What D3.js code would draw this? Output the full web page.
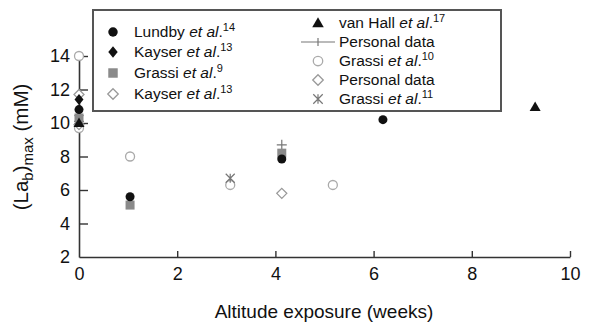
<!DOCTYPE html>
<html><head><meta charset="utf-8">
<script src="https://cdn.jsdelivr.net/npm/d3@7"></script>
<style>body{margin:0;background:#fff}svg{display:block;font-family:"Liberation Sans",Arial,sans-serif}</style>
</head><body><svg id="c" width="599" height="327"></svg>
<script>
const xTicks = [0, 2, 4, 6, 8, 10];
const yTicks = [2, 4, 6, 8, 10, 12, 14];
const lundbyX = [0, 1.04, 4.13, 6.19];
const lundbyY = [10.8, 5.6, 7.85, 10.2];
const kayserFX = [0];
const kayserFY = [11.4];
const grassi9X = [0, 1.04, 4.13];
const grassi9Y = [10.3, 5.1, 8.2];
const kayserOX = [0];
const kayserOY = [11.7];
const vanHallX = [0, 9.29];
const vanHallY = [10.0, 10.95];
const personalPX = [0, 4.13];
const personalPY = [10.1, 8.7];
const grassi10X = [0, 0, 1.04, 3.08, 5.17];
const grassi10Y = [14.0, 9.7, 8.0, 6.3, 6.3];
const personalDX = [0, 4.13];
const personalDY = [9.9, 5.8];
const grassi11X = [0, 3.08];
const grassi11Y = [10.2, 6.7];

const svg = d3.select("#c");
const x = d3.scaleLinear().domain([0, 10]).range([79, 570]);
const y = d3.scaleLinear().domain([2, 14]).range([257, 56]);
const axisCol = "#333";

const gx = svg.append("g").attr("transform", `translate(0,${y(2)})`)
  .call(d3.axisBottom(x).tickValues(xTicks).tickSizeInner(-6).tickSizeOuter(0).tickPadding(10));
const gy = svg.append("g").attr("transform", `translate(${x(0)},0)`)
  .call(d3.axisLeft(y).tickValues(yTicks).tickSizeInner(-9).tickSizeOuter(0).tickPadding(9));
[gx, gy].forEach(g => {
  g.select(".domain").attr("stroke", axisCol).attr("stroke-width", 1.6);
  g.selectAll(".tick line").attr("stroke", axisCol).attr("stroke-width", 1.4);
  g.selectAll(".tick text").attr("fill", "#111").style("font-size", "18px").style("font-family", "'Liberation Sans',Arial,sans-serif");
});
gy.selectAll(".tick").filter(d => d === 2).select("line").remove();
gx.selectAll(".tick").filter(d => d === 0).select("line").remove();

// axis titles
svg.append("text").attr("x", 324).attr("y", 318).attr("text-anchor", "middle")
  .style("font-size", "19px").attr("fill", "#111").text("Altitude exposure (weeks)");
const yt = svg.append("text").attr("transform", "translate(28,147) rotate(-90)")
  .attr("text-anchor", "middle").style("font-size", "20.5px").attr("fill", "#111");
yt.append("tspan").text("(La");
yt.append("tspan").attr("dy", 5).style("font-size", "15px").text("b");
yt.append("tspan").attr("dy", -5).text(")");
yt.append("tspan").attr("dy", 5).style("font-size", "15px").text("max");
yt.append("tspan").attr("dy", -5).text(" (mM)");

// symbol drawers
function drawSym(g, type, cx, cy, s) {
  s = s || 1;
  if (type === "circle") g.append("circle").attr("cx", cx).attr("cy", cy).attr("r", 4.5 * s).attr("fill", "#111");
  else if (type === "diamond") g.append("path").attr("d", `M${cx},${cy - 5.5 * s}L${cx + 4.5 * s},${cy}L${cx},${cy + 5.5 * s}L${cx - 4.5 * s},${cy}Z`).attr("fill", "#111");
  else if (type === "square") g.append("rect").attr("x", cx - 4.5 * s).attr("y", cy - 4.5 * s).attr("width", 9 * s).attr("height", 9 * s).attr("fill", "#8a8a8a");
  else if (type === "odiamond") g.append("path").attr("d", `M${cx},${cy - 5 * s}L${cx + 5 * s},${cy}L${cx},${cy + 5 * s}L${cx - 5 * s},${cy}Z`).attr("fill", "#fff").attr("stroke", "#999").attr("stroke-width", 1.3);
  else if (type === "triangle") g.append("path").attr("d", `M${cx},${cy - 5.5 * s}L${cx + 5.5 * s},${cy + 4 * s}L${cx - 5.5 * s},${cy + 4 * s}Z`).attr("fill", "#111");
  else if (type === "plus") g.append("path").attr("d", `M${cx - 5 * s},${cy}H${cx + 5 * s}M${cx},${cy - 5 * s}V${cy + 5 * s}`).attr("stroke", "#777").attr("stroke-width", 1.2).attr("fill", "none");
  else if (type === "ocircle") g.append("circle").attr("cx", cx).attr("cy", cy).attr("r", 4.5 * s).attr("fill", "#fff").attr("stroke", "#aaa").attr("stroke-width", 1.3);
  else if (type === "asterisk") {
    const r = 4.5 * s;
    g.append("path").attr("d", `M${cx - r},${cy - r}L${cx + r},${cy + r}M${cx - r},${cy + r}L${cx + r},${cy - r}M${cx},${cy - r}V${cy + r}`)
      .attr("stroke", "#777").attr("stroke-width", 1.2).attr("fill", "none");
  }
}

// points (draw order: open/gray behind, dark on top)
const series = [
  { name: "Grassi", sup: "10", type: "ocircle", xs: grassi10X, ys: grassi10Y },
  { name: "Personal data", type: "odiamond", xs: personalDX, ys: personalDY },
  { name: "Kayser", sup: "13", type: "odiamond", xs: kayserOX, ys: kayserOY },
  { name: "Grassi", sup: "11", type: "asterisk", xs: grassi11X, ys: grassi11Y },
  { name: "Personal data", type: "plus", xs: personalPX, ys: personalPY },
  { name: "Grassi", sup: "9", type: "square", xs: grassi9X, ys: grassi9Y },
  { name: "van Hall", sup: "17", type: "triangle", xs: vanHallX, ys: vanHallY },
  { name: "Lundby", sup: "14", type: "circle", xs: lundbyX, ys: lundbyY },
  { name: "Kayser", sup: "13", type: "diamond", xs: kayserFX, ys: kayserFY }
];
const pts = svg.append("g");
series.forEach(s => s.xs.forEach((xv, i) => drawSym(pts, s.type, x(xv), y(s.ys[i]), 1)));

// legend
const lg = svg.append("g");
lg.append("rect").attr("x", 93).attr("y", 10).attr("width", 408).attr("height", 101)
  .attr("fill", "#fff").attr("stroke", "#555").attr("stroke-width", 2);
const leftItems = [series[7], series[8], series[5], series[2]];
const rightItems = [series[6], series[4], series[0], series[1], series[3]];
function legendText(tx, ty, s) {
  const t = lg.append("text").attr("x", tx).attr("y", ty).attr("dy", "0.35em").style("font-size", "15.5px").attr("fill", "#111");
  t.append("tspan").text(s.name);
  if (s.sup) {
    t.append("tspan").text(" ");
    t.append("tspan").style("font-style", "italic").text("et al");
    t.append("tspan").text(".");
    t.append("tspan").attr("baseline-shift", "super").style("font-size", "11px").text(s.sup);
  }
}
const leftRows = [32, 52, 73, 94];
leftItems.forEach((s, i) => { drawSym(lg, s.type, 113, leftRows[i], 1.05); legendText(134, leftRows[i], s); });
const rightRows = [23, 42, 61, 80, 99];
rightItems.forEach((s, i) => {
  if (s.type === "plus") {
    lg.append("path").attr("d", `M301,${rightRows[i]}H335M318,${rightRows[i] - 4}V${rightRows[i] + 4}`).attr("stroke", "#777").attr("stroke-width", 1.2);
  } else drawSym(lg, s.type, 318, rightRows[i], 1.05);
  legendText(339, rightRows[i], s);
});
</script></body></html>
